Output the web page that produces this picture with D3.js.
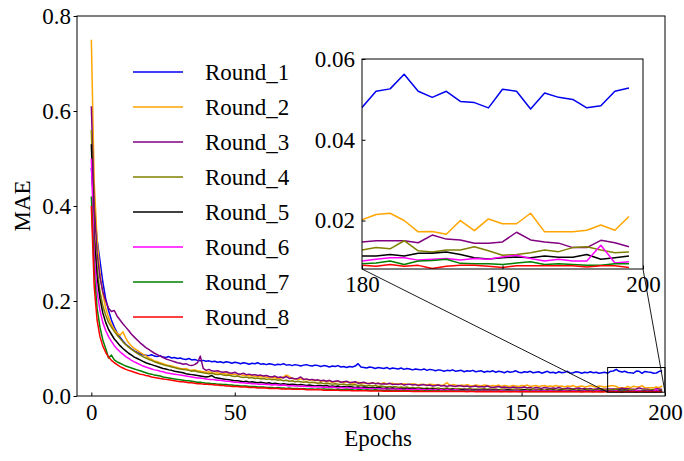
<!DOCTYPE html>
<html><head><meta charset="utf-8">
<script src="https://cdn.jsdelivr.net/npm/d3@7"></script>
<style>
html,body{margin:0;padding:0;background:#fff;}
text{font-family:"Liberation Serif","Times New Roman",serif;fill:#000;}
</style></head>
<body><svg id="c" width="684" height="461"></svg>
<script>
const epochs = Array.from({length: 200}, (_, i) => i);
const seriesNames = ["Round_1","Round_2","Round_3","Round_4","Round_5","Round_6","Round_7","Round_8"];
const seriesColors = ["#0000ee","#ffa500","#800080","#808000","#000000","#ff00ff","#008000","#ff0000"];
const xTicks = [0,50,100,150,200];
const yTicks = [0,0.2,0.4,0.6,0.8];
const insetXTicks = [180,190,200];
const insetYTicks = [0.02,0.04,0.06];

const R1 = [
0.48,0.40,0.33,0.285,0.24,0.205,0.18,0.16,0.145,0.133,0.124,0.116,0.109,0.104,0.099,0.095,0.092,0.089,0.087,0.086,
0.085,0.087,0.084,0.083,0.085,0.082,0.081,0.083,0.080,0.081,0.079,0.080,0.078,0.077,0.079,0.076,0.077,0.075,0.074,0.075,
0.073,0.074,0.072,0.073,0.071,0.072,0.070,0.072,0.071,0.069,0.071,0.070,0.068,0.070,0.069,0.067,0.069,0.068,0.070,0.067,
0.068,0.066,0.068,0.067,0.065,0.067,0.066,0.068,0.065,0.066,0.064,0.066,0.065,0.063,0.065,0.066,0.064,0.063,0.065,0.064,
0.062,0.064,0.063,0.061,0.063,0.062,0.064,0.061,0.062,0.060,0.062,0.061,0.063,0.068,0.061,0.060,0.059,0.061,0.060,0.058,
0.060,0.059,0.058,0.060,0.057,0.059,0.058,0.057,0.059,0.056,0.058,0.057,0.055,0.057,0.056,0.055,0.057,0.054,0.056,0.055,
0.053,0.055,0.054,0.052,0.054,0.053,0.055,0.052,0.053,0.054,0.051,0.053,0.052,0.054,0.051,0.052,0.053,0.050,0.052,0.051,
0.053,0.050,0.052,0.051,0.049,0.052,0.050,0.051,0.053,0.050,0.049,0.051,0.050,0.052,0.049,0.050,0.051,0.048,0.050,0.052,
0.049,0.050,0.048,0.051,0.049,0.050,0.052,0.048,0.049,0.051,0.050,0.048,0.050,0.049,0.051,0.049,0.050,0.048,0.049,0.050,
0.0480,0.0520,0.0526,0.0562,0.0520,0.0505,0.0520,0.0495,0.0492,0.0479,0.0525,0.0520,0.0476,0.0516,0.0505,0.0500,0.0479,0.0484,0.0520,0.0528];

const R2 = [
0.75,0.45,0.33,0.26,0.215,0.185,0.165,0.15,0.14,0.132,0.128,0.135,0.122,0.112,0.105,0.100,0.096,0.092,0.088,0.085,
0.080,0.077,0.074,0.072,0.070,0.068,0.066,0.064,0.063,0.061,0.060,0.058,0.057,0.058,0.055,0.054,0.055,0.053,0.052,0.051,
0.050,0.051,0.049,0.048,0.049,0.047,0.048,0.046,0.047,0.045,0.046,0.044,0.045,0.043,0.044,0.042,0.043,0.041,0.042,0.040,
0.041,0.039,0.040,0.038,0.039,0.037,0.038,0.040,0.044,0.041,0.037,0.036,0.035,0.036,0.034,0.035,0.033,0.034,0.032,0.033,
0.031,0.032,0.030,0.031,0.029,0.030,0.031,0.029,0.028,0.030,0.029,0.027,0.028,0.029,0.027,0.028,0.026,0.027,0.028,0.026,
0.027,0.026,0.028,0.025,0.026,0.027,0.025,0.026,0.024,0.026,0.025,0.024,0.026,0.025,0.023,0.025,0.024,0.023,0.025,0.024,
0.023,0.024,0.022,0.024,0.028,0.022,0.024,0.023,0.021,0.023,0.022,0.024,0.022,0.021,0.023,0.022,0.021,0.023,0.022,0.021,
0.022,0.021,0.023,0.020,0.022,0.021,0.020,0.022,0.021,0.020,0.022,0.021,0.023,0.020,0.021,0.022,0.020,0.021,0.022,0.020,
0.021,0.020,0.022,0.020,0.021,0.019,0.021,0.020,0.022,0.019,0.020,0.021,0.019,0.020,0.022,0.020,0.019,0.021,0.020,0.019,
0.0202,0.0215,0.0218,0.0200,0.0172,0.0173,0.0166,0.0200,0.0175,0.0204,0.0192,0.0192,0.0218,0.0172,0.0172,0.0172,0.0176,0.0189,0.0176,0.0210];

const R3 = [
0.61,0.40,0.30,0.25,0.22,0.20,0.185,0.178,0.18,0.168,0.16,0.152,0.145,0.138,0.13,0.124,0.118,0.112,0.107,0.102,
0.098,0.094,0.090,0.087,0.084,0.081,0.078,0.076,0.074,0.072,0.070,0.069,0.067,0.068,0.065,0.064,0.066,0.070,0.084,0.058,
0.054,0.056,0.053,0.052,0.053,0.051,0.050,0.051,0.049,0.048,0.050,0.047,0.046,0.048,0.045,0.046,0.044,0.045,0.043,0.044,
0.042,0.043,0.041,0.040,0.042,0.039,0.040,0.038,0.041,0.037,0.038,0.036,0.037,0.040,0.035,0.036,0.034,0.035,0.033,0.034,
0.032,0.033,0.031,0.033,0.030,0.031,0.032,0.029,0.030,0.031,0.028,0.029,0.030,0.027,0.028,0.029,0.027,0.026,0.028,0.026,
0.027,0.025,0.026,0.025,0.027,0.024,0.025,0.024,0.026,0.023,0.024,0.025,0.023,0.024,0.022,0.023,0.024,0.022,0.023,0.021,
0.022,0.023,0.021,0.022,0.020,0.022,0.021,0.020,0.022,0.021,0.020,0.021,0.019,0.020,0.021,0.019,0.020,0.019,0.021,0.019,
0.018,0.019,0.020,0.018,0.019,0.018,0.017,0.019,0.018,0.017,0.018,0.019,0.017,0.018,0.016,0.018,0.017,0.016,0.018,0.017,
0.016,0.017,0.016,0.018,0.016,0.015,0.017,0.016,0.015,0.016,0.017,0.015,0.016,0.015,0.016,0.014,0.015,0.016,0.015,0.014,
0.0147,0.0150,0.0150,0.0150,0.0145,0.0164,0.0154,0.0152,0.0144,0.0144,0.0147,0.0171,0.0152,0.0147,0.0144,0.0133,0.0133,0.0151,0.0145,0.0135];

const R4 = [
0.56,0.35,0.27,0.22,0.19,0.17,0.155,0.145,0.136,0.128,0.121,0.114,0.108,0.103,0.098,0.094,0.090,0.086,0.083,0.080,
0.077,0.075,0.072,0.070,0.068,0.066,0.064,0.063,0.061,0.060,0.058,0.057,0.056,0.055,0.054,0.052,0.053,0.051,0.050,0.049,
0.048,0.047,0.048,0.046,0.045,0.046,0.044,0.043,0.044,0.042,0.041,0.042,0.040,0.039,0.040,0.038,0.039,0.037,0.038,0.036,
0.037,0.035,0.036,0.034,0.035,0.033,0.034,0.032,0.033,0.031,0.032,0.030,0.031,0.030,0.029,0.030,0.028,0.029,0.028,0.027,
0.028,0.026,0.027,0.026,0.025,0.026,0.025,0.024,0.025,0.023,0.024,0.023,0.024,0.022,0.023,0.022,0.021,0.022,0.021,0.022,
0.020,0.021,0.020,0.019,0.020,0.019,0.020,0.018,0.019,0.018,0.019,0.017,0.018,0.017,0.018,0.017,0.016,0.017,0.016,0.017,
0.016,0.017,0.015,0.016,0.017,0.015,0.016,0.015,0.016,0.015,0.014,0.015,0.016,0.014,0.015,0.014,0.015,0.016,0.014,0.015,
0.014,0.015,0.013,0.014,0.015,0.014,0.013,0.014,0.015,0.013,0.014,0.013,0.014,0.013,0.015,0.013,0.014,0.013,0.012,0.014,
0.013,0.014,0.012,0.013,0.014,0.013,0.012,0.013,0.014,0.012,0.013,0.012,0.013,0.014,0.012,0.013,0.012,0.013,0.014,0.013,
0.0127,0.0133,0.0130,0.0150,0.0125,0.0122,0.0127,0.0127,0.0135,0.0125,0.0114,0.0116,0.0120,0.0127,0.0123,0.0133,0.0135,0.0127,0.0120,0.0122];

const R5 = [
0.53,0.33,0.25,0.205,0.175,0.155,0.14,0.13,0.12,0.113,0.106,0.100,0.095,0.090,0.086,0.082,0.079,0.076,0.073,0.070,
0.068,0.066,0.064,0.062,0.060,0.058,0.057,0.055,0.054,0.052,0.051,0.050,0.049,0.047,0.046,0.045,0.044,0.043,0.042,0.041,
0.040,0.041,0.043,0.039,0.038,0.037,0.036,0.035,0.034,0.033,0.032,0.032,0.031,0.030,0.031,0.029,0.030,0.029,0.028,0.029,
0.028,0.027,0.028,0.026,0.027,0.026,0.025,0.026,0.025,0.024,0.025,0.024,0.023,0.024,0.023,0.022,0.023,0.022,0.021,0.022,
0.022,0.021,0.022,0.020,0.021,0.020,0.021,0.019,0.020,0.019,0.020,0.019,0.018,0.019,0.018,0.019,0.018,0.017,0.018,0.017,
0.018,0.017,0.016,0.017,0.016,0.017,0.016,0.015,0.016,0.015,0.016,0.015,0.016,0.015,0.014,0.015,0.014,0.015,0.014,0.015,
0.014,0.013,0.014,0.013,0.014,0.013,0.014,0.013,0.012,0.013,0.014,0.013,0.012,0.013,0.012,0.013,0.012,0.013,0.012,0.013,
0.012,0.013,0.012,0.011,0.012,0.013,0.012,0.011,0.012,0.011,0.012,0.013,0.011,0.012,0.011,0.012,0.011,0.012,0.011,0.012,
0.011,0.012,0.011,0.0115,0.012,0.011,0.0115,0.011,0.012,0.011,0.0115,0.011,0.012,0.011,0.0115,0.011,0.012,0.011,0.0115,0.011,
0.0112,0.0112,0.0116,0.0112,0.0119,0.0119,0.0122,0.0116,0.0108,0.0105,0.0108,0.0110,0.0108,0.0112,0.0109,0.0109,0.0116,0.0104,0.0108,0.0112];

const R6 = [
0.50,0.30,0.22,0.18,0.155,0.138,0.125,0.115,0.106,0.099,0.093,0.088,0.083,0.079,0.075,0.072,0.069,0.066,0.063,0.061,
0.059,0.057,0.055,0.054,0.052,0.051,0.049,0.048,0.047,0.046,0.045,0.044,0.043,0.042,0.041,0.040,0.039,0.038,0.038,0.037,
0.036,0.035,0.035,0.034,0.033,0.033,0.032,0.031,0.031,0.030,0.029,0.029,0.028,0.028,0.027,0.027,0.026,0.026,0.025,0.025,
0.025,0.024,0.024,0.023,0.024,0.023,0.022,0.023,0.022,0.021,0.022,0.021,0.021,0.020,0.021,0.020,0.020,0.019,0.020,0.019,
0.019,0.018,0.019,0.018,0.019,0.018,0.017,0.018,0.017,0.018,0.017,0.016,0.017,0.016,0.017,0.016,0.016,0.015,0.016,0.015,
0.016,0.015,0.015,0.014,0.015,0.014,0.015,0.014,0.014,0.013,0.014,0.013,0.014,0.013,0.014,0.013,0.013,0.012,0.013,0.012,
0.013,0.012,0.013,0.012,0.013,0.012,0.012,0.013,0.012,0.011,0.012,0.012,0.011,0.012,0.011,0.012,0.011,0.012,0.011,0.012,
0.011,0.012,0.011,0.011,0.012,0.011,0.0105,0.011,0.012,0.011,0.0105,0.011,0.011,0.0105,0.011,0.012,0.011,0.0105,0.011,0.0105,
0.011,0.0105,0.011,0.010,0.0105,0.011,0.0105,0.010,0.011,0.0105,0.010,0.0105,0.011,0.010,0.0105,0.010,0.011,0.0105,0.010,0.0105,
0.0100,0.0104,0.0108,0.0108,0.0102,0.0104,0.0106,0.0102,0.0106,0.0104,0.0110,0.0114,0.0106,0.0100,0.0104,0.0100,0.0100,0.0139,0.0095,0.0098];

const R7 = [
0.42,0.26,0.185,0.145,0.118,0.100,0.080,0.086,0.076,0.072,0.069,0.066,0.063,0.061,0.059,0.057,0.055,0.053,0.051,0.049,
0.047,0.046,0.044,0.043,0.042,0.040,0.039,0.038,0.037,0.036,0.035,0.034,0.033,0.032,0.032,0.031,0.030,0.029,0.029,0.028,
0.027,0.027,0.026,0.026,0.025,0.025,0.024,0.024,0.023,0.023,0.022,0.022,0.021,0.021,0.021,0.020,0.020,0.020,0.019,0.019,
0.019,0.018,0.018,0.018,0.017,0.018,0.017,0.017,0.016,0.017,0.016,0.016,0.016,0.015,0.016,0.015,0.015,0.015,0.014,0.015,
0.014,0.015,0.014,0.014,0.014,0.013,0.014,0.013,0.013,0.014,0.013,0.013,0.012,0.013,0.013,0.012,0.013,0.012,0.012,0.013,
0.012,0.012,0.011,0.012,0.012,0.011,0.012,0.011,0.011,0.012,0.011,0.011,0.0105,0.011,0.011,0.0105,0.011,0.0105,0.011,0.0105,
0.0105,0.011,0.010,0.0105,0.0105,0.010,0.0105,0.010,0.0105,0.010,0.0105,0.010,0.010,0.0105,0.010,0.0098,0.0102,0.010,0.0098,0.0102,
0.0100,0.0098,0.0102,0.0097,0.0100,0.0098,0.0096,0.0100,0.0098,0.0096,0.0099,0.0097,0.0095,0.0098,0.0096,0.0099,0.0095,0.0097,0.0096,0.0094,
0.0097,0.0095,0.0098,0.0094,0.0096,0.0095,0.0093,0.0096,0.0094,0.0097,0.0093,0.0095,0.0094,0.0096,0.0093,0.0095,0.0094,0.0092,0.0095,0.0093,
0.0093,0.0095,0.0100,0.0091,0.0100,0.0101,0.0104,0.0094,0.0093,0.0093,0.0091,0.0095,0.0098,0.0091,0.0093,0.0091,0.0089,0.0089,0.0093,0.0093];

const R8 = [
0.40,0.23,0.16,0.125,0.105,0.092,0.082,0.075,0.070,0.066,0.062,0.059,0.056,0.054,0.052,0.050,0.048,0.046,0.045,0.043,
0.042,0.040,0.039,0.038,0.037,0.036,0.035,0.034,0.033,0.032,0.031,0.030,0.030,0.029,0.028,0.028,0.027,0.026,0.026,0.025,
0.025,0.024,0.024,0.023,0.023,0.022,0.022,0.021,0.021,0.020,0.020,0.020,0.019,0.019,0.019,0.018,0.018,0.018,0.017,0.017,
0.017,0.017,0.016,0.016,0.016,0.016,0.015,0.015,0.015,0.015,0.014,0.014,0.014,0.014,0.014,0.013,0.013,0.013,0.013,0.013,
0.013,0.012,0.012,0.012,0.012,0.012,0.012,0.0115,0.0115,0.0115,0.0115,0.011,0.011,0.011,0.011,0.011,0.011,0.0105,0.0105,0.0105,
0.0105,0.0105,0.010,0.0103,0.0100,0.0102,0.0100,0.0099,0.0101,0.0098,0.0100,0.0098,0.0097,0.0099,0.0097,0.0098,0.0096,0.0097,0.0095,0.0097,
0.0096,0.0095,0.0097,0.0094,0.0096,0.0095,0.0093,0.0095,0.0094,0.0093,0.0095,0.0092,0.0094,0.0093,0.0092,0.0094,0.0092,0.0093,0.0091,0.0093,
0.0092,0.0091,0.0093,0.0090,0.0092,0.0091,0.0090,0.0092,0.0090,0.0091,0.0089,0.0091,0.0090,0.0089,0.0091,0.0089,0.0090,0.0088,0.0090,0.0089,
0.0088,0.0090,0.0088,0.0089,0.0087,0.0089,0.0088,0.0087,0.0089,0.0087,0.0088,0.0086,0.0088,0.0087,0.0089,0.0086,0.0088,0.0087,0.0086,0.0088,
0.0089,0.0087,0.0091,0.0087,0.0089,0.0081,0.0087,0.0089,0.0089,0.0087,0.0084,0.0088,0.0088,0.0088,0.0088,0.0088,0.0085,0.0088,0.0088,0.0084];

const seriesValues = [R1,R2,R3,R4,R5,R6,R7,R8];
const insetRange = [180, 200];
const insetYRange = [0.008, 0.06];

const FS = 23;
const svg = d3.select("#c");
svg.append("rect").attr("width",684).attr("height",461).attr("fill","#fff");

// main scales
const x = d3.scaleLinear().domain([-5,200]).range([77,665]);
const y = d3.scaleLinear().domain([0,0.8]).range([396,16]);

svg.append("defs").append("clipPath").attr("id","mainclip")
  .append("rect").attr("x",77).attr("y",16).attr("width",588).attr("height",380);
svg.select("defs").append("clipPath").attr("id","insclip")
  .append("rect").attr("x",362).attr("y",59).attr("width",281).attr("height",210);

const line = d3.line().x((d,i)=>x(epochs[i])).y(d=>y(d));
const gLines = svg.append("g").attr("clip-path","url(#mainclip)");
seriesValues.forEach((vals,k)=>{
  gLines.append("path").attr("d",line(vals)).attr("fill","none")
    .attr("stroke",seriesColors[k]).attr("stroke-width",1.5).attr("stroke-linejoin","round");
});

// main axes
const ax = svg.append("g").attr("transform","translate(0,396)")
  .call(d3.axisBottom(x).tickValues(xTicks).tickSize(-3.5).tickSizeOuter(0).tickPadding(8));
const ay = svg.append("g").attr("transform","translate(77,0)")
  .call(d3.axisLeft(y).tickValues(yTicks).tickFormat(d3.format(".1f")).tickSize(3.5).tickSizeOuter(0).tickPadding(2.5));
[ax,ay].forEach(g=>{
  g.select(".domain").remove();
  g.selectAll("line").attr("stroke","#000").attr("stroke-width",1);
  g.selectAll("text").attr("font-size",FS).attr("font-family","Liberation Serif");
});
svg.append("rect").attr("x",77).attr("y",16).attr("width",588).attr("height",380)
  .attr("fill","none").attr("stroke","#000").attr("stroke-width",1);

svg.append("text").attr("x",378).attr("y",446).attr("text-anchor","middle")
  .attr("font-size",FS).text("Epochs");
svg.append("text").attr("transform","translate(30,206) rotate(-90)").attr("text-anchor","middle")
  .attr("font-size",FS).text("MAE");

// legend
const lg = svg.append("g");
seriesNames.forEach((n,k)=>{
  const yy = 72 + 35*k;
  lg.append("line").attr("x1",133).attr("x2",183).attr("y1",yy).attr("y2",yy)
    .attr("stroke",seriesColors[k]).attr("stroke-width",1.5);
  lg.append("text").attr("x",205).attr("y",yy).attr("dy","0.34em").attr("font-size",FS).text(n);
});

// indicator rectangle + connectors
const rx0 = x(insetRange[0]), rx1 = x(insetRange[1]);
const ry0 = y(insetYRange[1]), ry1 = y(insetYRange[0]);
svg.append("rect").attr("x",rx0).attr("y",ry0).attr("width",rx1-rx0).attr("height",ry1-ry0)
  .attr("fill","none").attr("stroke","#000").attr("stroke-width",1);

// inset
const xi = d3.scaleLinear().domain(insetRange).range([362,643]);
const yi = d3.scaleLinear().domain(insetYRange).range([269,59]);
svg.append("line").attr("x1",rx0).attr("y1",ry1).attr("x2",xi.range()[0]).attr("y2",yi.range()[0])
  .attr("stroke","#000").attr("stroke-width",0.9);
svg.append("line").attr("x1",rx1).attr("y1",ry1).attr("x2",xi.range()[1]).attr("y2",yi.range()[0])
  .attr("stroke","#000").attr("stroke-width",0.9);

svg.append("rect").attr("x",362).attr("y",59).attr("width",281).attr("height",210).attr("fill","#fff");
const lineI = d3.line().x((d,i)=>xi(epochs[i])).y(d=>yi(d));
const gI = svg.append("g").attr("clip-path","url(#insclip)");
seriesValues.forEach((vals,k)=>{
  const idx = epochs.map((e,i)=>i).filter(i=>epochs[i]>=insetRange[0]-1);
  const sub = idx.map(i=>vals[i]);
  const l = d3.line().x((d,j)=>xi(epochs[idx[j]])).y(d=>yi(d));
  gI.append("path").attr("d",l(sub)).attr("fill","none")
    .attr("stroke",seriesColors[k]).attr("stroke-width",1.5).attr("stroke-linejoin","round");
});
const axi = svg.append("g").attr("transform","translate(0,269)")
  .call(d3.axisBottom(xi).tickValues(insetXTicks).tickSize(-3.5).tickSizeOuter(0).tickPadding(7));
const ayi = svg.append("g").attr("transform","translate(362,0)")
  .call(d3.axisLeft(yi).tickValues(insetYTicks).tickFormat(d3.format(".2f")).tickSize(-3.5).tickSizeOuter(0).tickPadding(7));
[axi,ayi].forEach(g=>{
  g.select(".domain").remove();
  g.selectAll("line").attr("stroke","#000").attr("stroke-width",1);
  g.selectAll("text").attr("font-size",FS).attr("font-family","Liberation Serif");
});
svg.append("rect").attr("x",362).attr("y",59).attr("width",281).attr("height",210)
  .attr("fill","none").attr("stroke","#000").attr("stroke-width",1);
</script></body></html>
